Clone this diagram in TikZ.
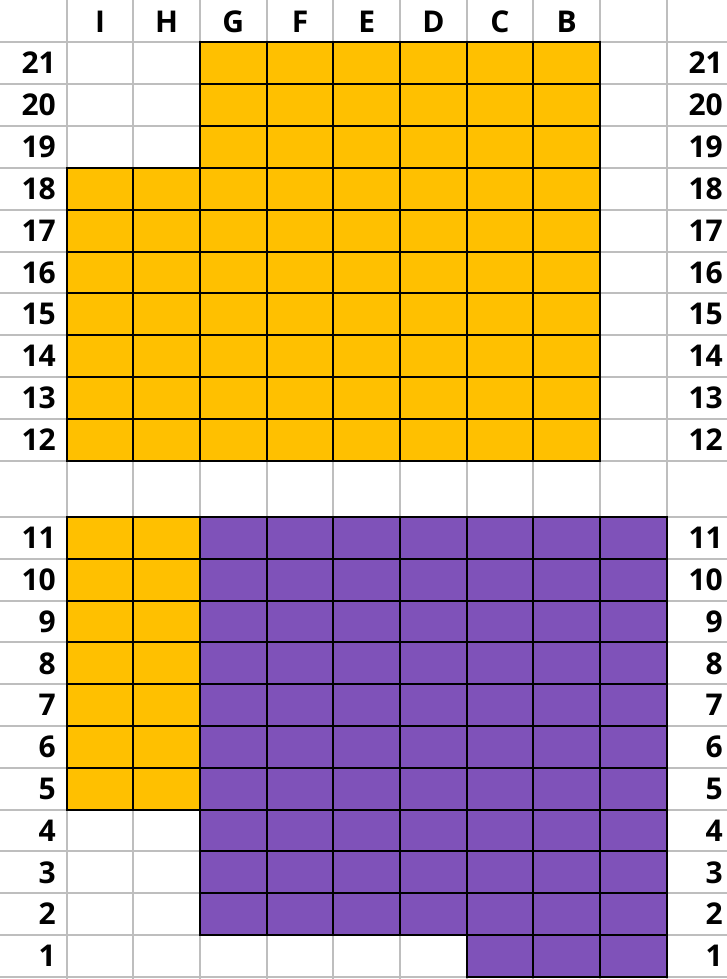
\documentclass[tikz,border=0pt]{standalone}
\usepackage{fontspec}
\setmainfont{Open Sans}
\definecolor{orng}{RGB}{255,192,0}
\definecolor{prpl}{RGB}{127,82,185}
\definecolor{lgray}{RGB}{190,190,190}
\tikzset{
	gridln/.style={draw=lgray,line width=2pt},
	ocell/.style={draw=black,line width=2pt,fill=orng},
	pcell/.style={draw=black,line width=2pt,fill=prpl},
	lbl/.style={font=\bfseries\fontsize{30}{30}\selectfont,inner sep=0pt}
}
\begin{document}
\begin{tikzpicture}[x=1pt,y=-1pt]
\pgfmathsetmacro{\cw}{66.67};
\pgfmathsetmacro{\rh}{41.9};
\pgfmathsetmacro{\rl}{41.8};
\useasboundingbox (0,0) rectangle (727,979);
% light grid
\foreach \c in {1,...,10} \draw[gridln] ({\c*\cw},0)--({\c*\cw},979);
\foreach \r in {0,...,10} \draw[gridln] (0,{42+\r*\rh})--(727,{42+\r*\rh});
\foreach \r in {0,...,11} \draw[gridln] (0,{517+\r*\rl})--(727,{517+\r*\rl});
% upper block, rows 21-12
\foreach \c in {3,...,8} \foreach \r in {12,...,21}
	\draw[ocell] ({\c*\cw},{42+(21-\r)*\rh}) rectangle ({(\c+1)*\cw},{42+(22-\r)*\rh});
\foreach \c in {1,2} \foreach \r in {12,...,18}
	\draw[ocell] ({\c*\cw},{42+(21-\r)*\rh}) rectangle ({(\c+1)*\cw},{42+(22-\r)*\rh});
% lower block, rows 11-1
\foreach \c in {1,2} \foreach \r in {5,...,11}
	\draw[ocell] ({\c*\cw},{517+(11-\r)*\rl}) rectangle ({(\c+1)*\cw},{517+(12-\r)*\rl});
\foreach \c in {3,...,9} \foreach \r in {2,...,11}
	\draw[pcell] ({\c*\cw},{517+(11-\r)*\rl}) rectangle ({(\c+1)*\cw},{517+(12-\r)*\rl});
\foreach \c in {7,8,9}
	\draw[pcell] ({\c*\cw},{517+10*\rl}) rectangle ({(\c+1)*\cw},{517+11*\rl});
% column letters
\foreach \c/\l in {1/I,2/H,3/G,4/F,5/E,6/D,7/C,8/B}
	\node[lbl] (hd\l) at ({(\c+0.5)*\cw},22) {\l};
% row numbers
\foreach \r in {12,...,21} {
	\node[lbl,anchor=east] (lt\r) at (56,{42+(21.5-\r)*\rh}) {\r};
	\node[lbl,anchor=east] (rt\r) at (723,{42+(21.5-\r)*\rh}) {\r};
}
\foreach \r in {1,...,11} {
	\node[lbl,anchor=east] (lt\r) at (56,{517+(11.5-\r)*\rl}) {\r};
	\node[lbl,anchor=east] (rt\r) at (723,{517+(11.5-\r)*\rl}) {\r};
}
\end{tikzpicture}
\end{document}
